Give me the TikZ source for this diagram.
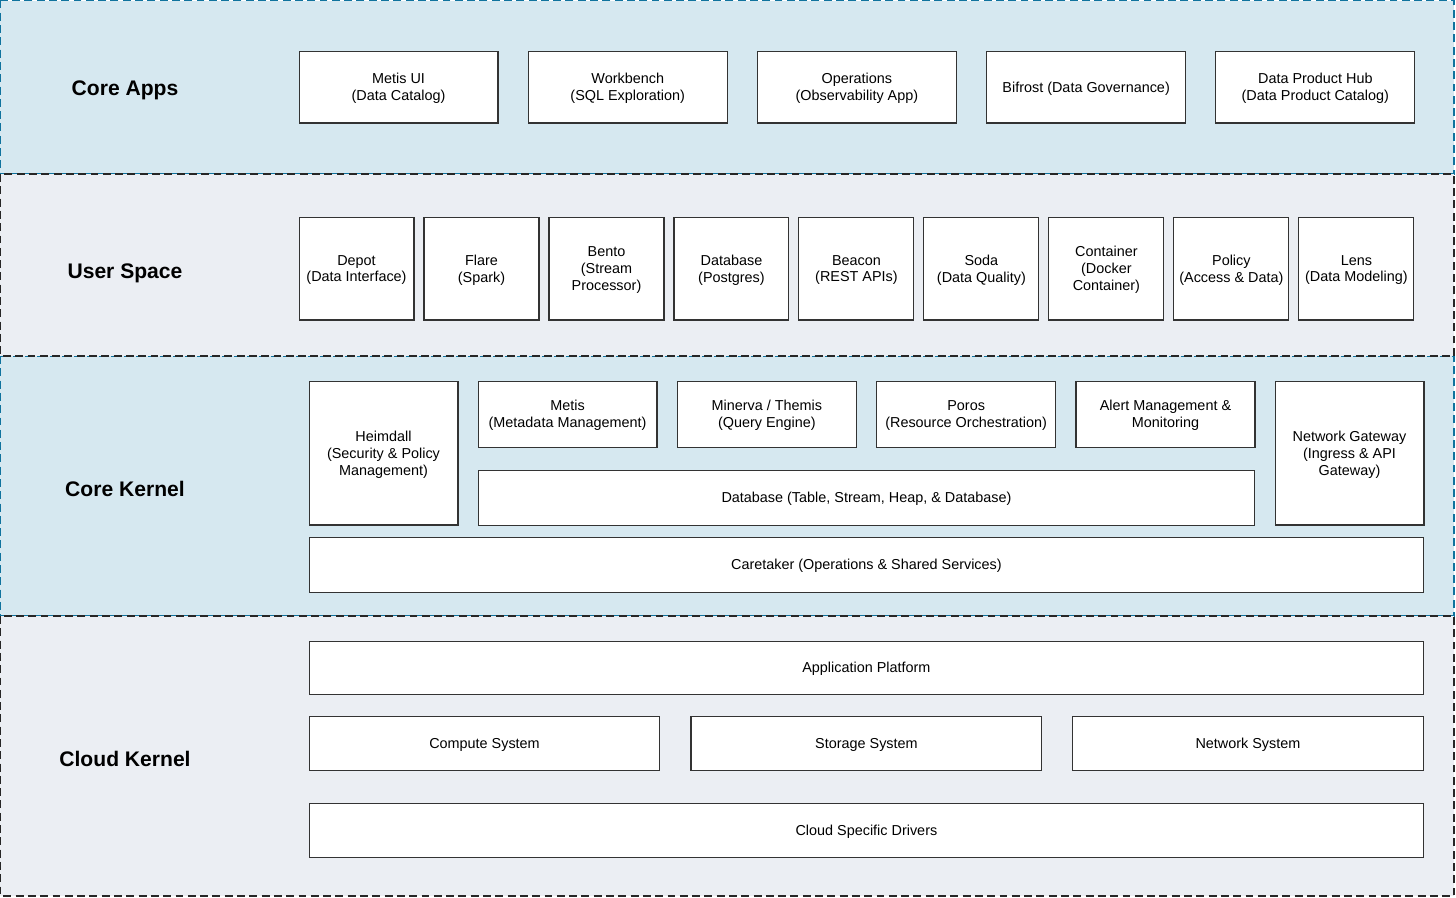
\documentclass[tikz,border=0pt]{standalone}
\usepackage{fontspec}
\setmainfont{Liberation Sans}
\usepackage{xcolor}
\usetikzlibrary{positioning}

\definecolor{layerblue}{RGB}{214,232,240}
\definecolor{layergray}{RGB}{235,238,243}
\definecolor{edgeteal}{RGB}{16,115,158}

\begin{document}
\begin{tikzpicture}[
        x=0.02cm, y=-0.02cm,
        bluelayer/.style={fill=layerblue, draw=edgeteal, line width=0.6pt, dash pattern=on 4.5pt off 2.5pt},
        graylayer/.style={fill=layergray, draw=black!85, line width=0.6pt, dash pattern=on 4.5pt off 2.5pt},
        title/.style={font=\fontsize{12}{14.4}\selectfont\bfseries},
        comp/.style={rectangle, draw=black!80, fill=white, line width=0.6pt, align=center, inner sep=1pt, text depth=-1.7pt, font=\fontsize{8.2}{9.6}\selectfont},
        app/.style={comp, minimum width=3.98cm, minimum height=1.44cm},
        svc/.style={comp, minimum width=2.3cm, minimum height=2.06cm},
        kern/.style={comp, minimum width=3.58cm, minimum height=1.32cm},
        tall/.style={comp, minimum width=2.98cm, minimum height=2.88cm},
        wide/.style={comp, minimum width=22.3cm, minimum height=1.08cm},
        infra/.style={comp, minimum width=7.02cm, minimum height=1.08cm}
    ]
        \useasboundingbox (0,0) rectangle (1456,897);

        % layers
        \path[bluelayer] (0.5,0.5) rectangle (1454,174);
        \path[bluelayer] (0.5,356) rectangle (1454,616);
        \path[graylayer] (0.5,174) rectangle (1454,356);
        \path[graylayer] (0.5,616) rectangle (1454,896);

        \node[title] (coreapps) at (125,90) {Core Apps};
        \node[title] (userspace) at (125,273) {User Space};
        \node[title] (corekernel) at (125,489) {Core Kernel};
        \node[title] (cloudkernel) at (125,759) {Cloud Kernel};

        % core apps
        \node[app, anchor=north west] (metisui) at (298.5,50.5) {Metis UI\\(Data Catalog)};
        \node[app, right=0.584cm of metisui] (workbench) {Workbench\\(SQL Exploration)};
        \node[app, right=0.584cm of workbench] (operations) {Operations\\(Observability App)};
        \node[app, right=0.584cm of operations] (bifrost) {Bifrost (Data Governance)};
        \node[app, right=0.584cm of bifrost] (hub) {Data Product Hub\\(Data Product Catalog)};

        % user space
        \node[svc, anchor=north west] (depot) at (298.5,216.5) {Depot\\(Data Interface)};
        \node[svc, right=0.179cm of depot] (flare) {Flare\\(Spark)};
        \node[svc, right=0.179cm of flare] (bento) {Bento\\(Stream\\Processor)};
        \node[svc, right=0.179cm of bento] (database) {Database\\(Postgres)};
        \node[svc, right=0.179cm of database] (beacon) {Beacon\\(REST APIs)};
        \node[svc, right=0.179cm of beacon] (soda) {Soda\\(Data Quality)};
        \node[svc, right=0.179cm of soda] (container) {Container\\(Docker\\Container)};
        \node[svc, right=0.179cm of container] (policy) {Policy\\(Access \& Data)};
        \node[svc, right=0.179cm of policy] (lens) {Lens\\(Data Modeling)};

        % core kernel
        \node[tall, anchor=north west] (heimdall) at (308.5,380.5) {Heimdall\\(Security \& Policy\\Management)};
        \node[kern, right=0.38cm of heimdall.north east, anchor=north west] (metis) {Metis\\(Metadata Management)};
        \node[kern, right=0.386cm of metis] (minerva) {Minerva / Themis\\(Query Engine)};
        \node[kern, right=0.386cm of minerva] (poros) {Poros\\(Resource Orchestration)};
        \node[kern, right=0.386cm of poros] (alert) {Alert Management \&\\Monitoring};
        \node[tall, right=0.38cm of alert.north east, anchor=north west] (gateway) {Network Gateway\\(Ingress \& API\\Gateway)};
        \node[comp, minimum width=15.54cm, minimum height=1.1cm, below=0.44cm of metis.south west, anchor=north west] (kerneldb) {Database (Table, Stream, Heap, \& Database)};
        \node[comp, minimum width=22.3cm, minimum height=1.1cm, below=0.22cm of heimdall.south west, anchor=north west] (caretaker) {Caretaker (Operations \& Shared Services)};

        % cloud kernel
        \node[wide, minimum height=1.06cm, anchor=north west] (platform) at (308.5,640.5) {Application Platform};
        \node[infra, anchor=north west] (compute) at (308.5,715.5) {Compute System};
        \node[infra, right=0.6cm of compute] (storage) {Storage System};
        \node[infra, right=0.59cm of storage] (network) {Network System};
        \node[wide, anchor=north west] (drivers) at (308.5,802.5) {Cloud Specific Drivers};
    \end{tikzpicture}
\end{document}
